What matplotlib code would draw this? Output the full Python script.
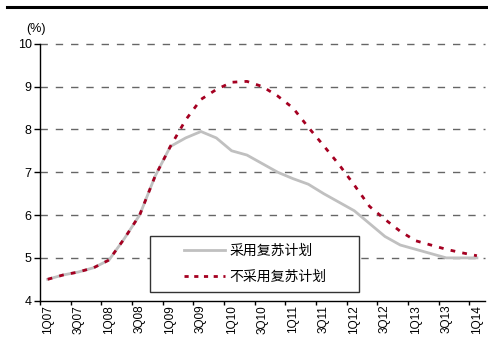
import matplotlib
matplotlib.use("Agg")
import matplotlib.pyplot as plt
from matplotlib.patches import Rectangle
from matplotlib.lines import Line2D

quarters = ["1Q07","2Q07","3Q07","4Q07","1Q08","2Q08","3Q08","4Q08",
            "1Q09","2Q09","3Q09","4Q09","1Q10","2Q10","3Q10","4Q10",
            "1Q11","2Q11","3Q11","4Q11","1Q12","2Q12","3Q12","4Q12",
            "1Q13","2Q13","3Q13","4Q13","1Q14"]
with_plan = [4.50, 4.60, 4.67, 4.77, 4.95, 5.45, 6.00, 6.90,
             7.60, 7.80, 7.95, 7.80, 7.50, 7.40, 7.20, 7.00,
             6.85, 6.72, 6.50, 6.30, 6.10, 5.80, 5.50, 5.30,
             5.20, 5.10, 5.00, 5.00, 5.00]
without_plan = [4.50, 4.60, 4.67, 4.77, 4.95, 5.45, 6.00, 6.90,
                7.60, 8.22, 8.70, 8.93, 9.10, 9.12, 9.00, 8.78,
                8.50, 8.05, 7.62, 7.18, 6.70, 6.20, 5.90, 5.62,
                5.40, 5.30, 5.20, 5.12, 5.05]
series_names = ["采用复苏计划", "不采用复苏计划"]
yticks = [4, 5, 6, 7, 8, 9, 10]

num_font = ["Liberation Sans Narrow", "Liberation Sans", "DejaVu Sans"]
cjk_font = ["Noto Sans CJK SC", "DejaVu Sans"]

fig = plt.figure(figsize=(4.88, 3.43), dpi=100)
ax = fig.add_axes([0.082, 0.1233, 0.911, 0.7493])

x = list(range(len(quarters)))
gray = "#C0C0C0"
red = "#A50021"

for v in yticks[1:]:
    ax.axhline(v, color="#666666", lw=1.0, dashes=(5.3, 5.7), zorder=1, clip_on=False)

ax.plot(x, with_plan, color=gray, lw=2.0, zorder=3, solid_joinstyle="miter")
ax.plot(x, without_plan, color=red, lw=2.0, dashes=(1.7, 2.6),
        dash_capstyle="butt", zorder=4)

ax.set_xlim(-0.5, len(quarters) - 0.5)
ax.set_ylim(4, 10)

ax.set_yticks(yticks)
ax.set_yticklabels([str(v) for v in yticks], fontfamily=num_font, fontsize=9)
ax.set_xticks([i - 0.5 for i in range(0, len(quarters), 2)])
ax.set_xticklabels([])
ax.set_xticks(list(range(0, len(quarters), 2)), minor=True)
ax.set_xticklabels([quarters[i] for i in range(0, len(quarters), 2)], minor=True,
                   rotation=90, fontfamily=num_font, fontsize=8.5)
ax.tick_params(axis="x", which="major", direction="out", length=3, width=1)
ax.tick_params(axis="x", which="minor", length=0, pad=3)
ax.tick_params(axis="y", direction="out", length=4, width=1, pad=2)

for s in ["top", "right"]:
    ax.spines[s].set_visible(False)
for s in ["left", "bottom"]:
    ax.spines[s].set_color("black")
    ax.spines[s].set_linewidth(1.0)

# legend box
box = Rectangle((0.247, 0.034), 0.4705, 0.218, transform=ax.transAxes,
                facecolor="white", edgecolor="#333333", lw=1.0, zorder=5)
ax.add_patch(box)
handles = [Line2D([], [], color=gray, lw=2.0),
           Line2D([], [], color=red, lw=2.0, dashes=(1.5, 2.0), dash_capstyle="butt")]
leg = ax.legend(handles, series_names, loc="center", bbox_to_anchor=(0.485, 0.143),
                bbox_transform=ax.transAxes, frameon=False, handlelength=2.95,
                handletextpad=0.3, labelspacing=0.85, prop={"family": cjk_font, "size": 10})
leg.set_zorder(6)

fig.text(0.074, 0.915, "(%)", ha="center", va="center", fontfamily=num_font, fontsize=9)
fig.add_artist(Line2D([7 / 488, 1.0], [0.980, 0.980], color="black", lw=2.2,
                      transform=fig.transFigure))

fig.savefig("out.png", dpi=100)
